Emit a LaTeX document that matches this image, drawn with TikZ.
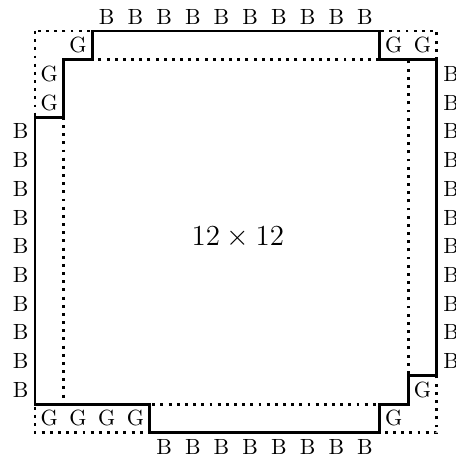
\documentclass[tikz,border=0pt]{standalone}
\begin{document}
\begin{tikzpicture}[x=0.5cm,y=-0.5cm,
  solidline/.style={line width=1.45pt},
  dotline/.style={line width=1.45pt,dash pattern=on 1.45pt off 2.6pt},
  lbl/.style={inner sep=0pt,font=\fontsize{10.9}{13}\selectfont},
  ctr/.style={inner sep=0pt,font=\Large}]
\useasboundingbox (-1.22,-1.08) rectangle (14.67,15.02);
% dotted squares
\draw[dotline] (0,0) rectangle (14,14);
\draw[dotline] (1,1) rectangle (13,13);
% solid boundary
\draw[solidline] (2,0) -- (2,1) -- (1,1) -- (1,3) -- (0,3) -- (0,13) -- (4,13) -- (4,14)
  -- (12,14) -- (12,13) -- (13,13) -- (13,12) -- (14,12) -- (14,1) -- (12,1) -- (12,0) -- cycle;
% G labels
\node[lbl] (g1) at (1.5,0.5) {G};
\node[lbl] (g2) at (0.5,1.5) {G};
\node[lbl] (g3) at (0.5,2.5) {G};
\node[lbl] (g4) at (12.5,0.5) {G};
\node[lbl] (g5) at (13.5,0.5) {G};
\node[lbl] (g6) at (0.5,13.5) {G};
\node[lbl] (g7) at (1.5,13.5) {G};
\node[lbl] (g8) at (2.5,13.5) {G};
\node[lbl] (g9) at (3.5,13.5) {G};
\node[lbl] (g10) at (12.5,13.5) {G};
\node[lbl] (g11) at (13.5,12.5) {G};
% B labels
\foreach \i in {2,...,11} \node[lbl] (bt\i) at (\i+0.5,-0.5) {B};
\foreach \i in {3,...,12} \node[lbl] (bl\i) at (-0.5,\i+0.5) {B};
\foreach \i in {4,...,11} \node[lbl] (bb\i) at (\i+0.5,14.5) {B};
\foreach \i in {1,...,11} \node[lbl] (br\i) at (14.5,\i+0.5) {B};
% center
\node[ctr] (c) at (7.07,7.2) {$12\times 12$};
\end{tikzpicture}
\end{document}
